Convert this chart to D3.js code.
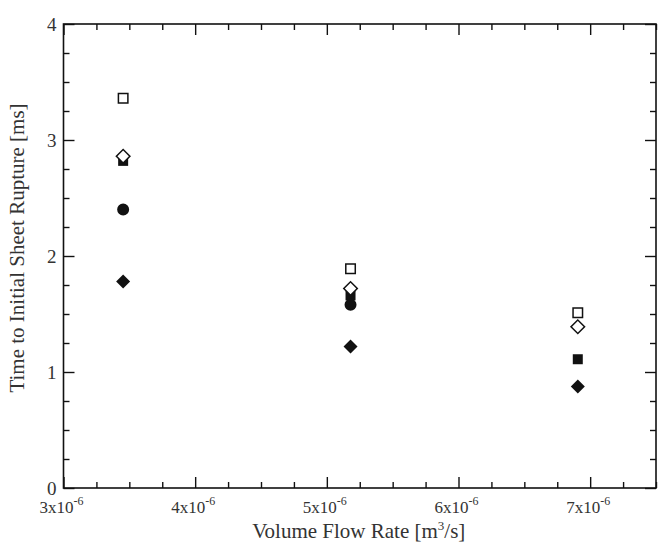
<!DOCTYPE html>
<html><head><meta charset="utf-8">
<script src="https://cdn.jsdelivr.net/npm/d3@7"></script>
<style>body{margin:0;background:#fff}svg{display:block}</style>
</head><body>
<svg id="chart" width="659" height="546"></svg>
<script>
// Volume flow rate (m^3/s) for the three test conditions
const flowRates = [3.453e-6, 5.18e-6, 6.906e-6];
// Time to initial sheet rupture (ms), one array per marker series
const openSquare    = [3.36, 1.89, 1.51];
const filledSquare  = [2.82, 1.66, 1.11];
const filledCircle  = [2.40, 1.58, null];
const openDiamond   = [2.86, 1.72, 1.39];
const filledDiamond = [1.78, 1.22, 0.875];
// Axis ticks
const xMajor = [3e-6, 4e-6, 5e-6, 6e-6, 7e-6];
const xMantissa = ["3", "4", "5", "6", "7"];
const yMajor = [0, 1, 2, 3, 4];

const svg = d3.select("#chart");
const m = {left: 63.5, right: 656, top: 24, bottom: 488};
const x = d3.scaleLinear().domain([3e-6, 7.5e-6]).range([m.left, m.right]);
const y = d3.scaleLinear().domain([0, 4]).range([m.bottom, m.top]);

const xMinor = d3.range(3e-6, 7.5001e-6, 0.25e-6).filter(v => Math.abs(v / 1e-6 - Math.round(v / 1e-6)) > 1e-6);
const yMinor = d3.range(0, 4.0001, 0.25).filter(v => Math.abs(v - Math.round(v)) > 1e-6);

const font = "'Liberation Serif', 'Times New Roman', serif";
const ink = "#111";

function styleAxis(g) {
  g.select(".domain").remove();
  g.selectAll(".tick line").attr("stroke", ink).attr("stroke-width", 1.4);
  g.selectAll(".tick text").remove();
}

// inward ticks on all four sides
const axes = [
  [d3.axisBottom(x), `translate(0,${m.bottom})`, xMajor, xMinor],
  [d3.axisTop(x), `translate(0,${m.top})`, xMajor, xMinor],
  [d3.axisLeft(y), `translate(${m.left},0)`, yMajor, yMinor],
  [d3.axisRight(y), `translate(${m.right},0)`, yMajor, yMinor]
];
axes.forEach(([ax, tr, major, minor]) => {
  svg.append("g").attr("transform", tr).call(ax.tickValues(major).tickSize(-11).tickFormat("")).call(styleAxis);
  svg.append("g").attr("transform", tr).call(ax.tickValues(minor).tickSize(-6).tickFormat("")).call(styleAxis);
});

// frame
svg.append("rect")
  .attr("x", m.left).attr("y", m.top)
  .attr("width", m.right - m.left).attr("height", m.bottom - m.top)
  .attr("fill", "none").attr("stroke", ink).attr("stroke-width", 1.6);

// y tick labels
svg.append("g").selectAll("text").data(yMajor).join("text")
  .attr("x", m.left - 7).attr("y", d => y(d)).attr("dy", "0.35em")
  .attr("text-anchor", "end")
  .attr("font-family", font).attr("font-size", 19).attr("fill", "#333")
  .text(d => d);

// x tick labels with superscript exponent
const xl = svg.append("g").selectAll("text").data(xMajor).join("text")
  .attr("x", d => x(d) - 2).attr("y", m.bottom + 25)
  .attr("text-anchor", "middle")
  .attr("font-family", font).attr("font-size", 17).attr("fill", "#333");
xl.append("tspan").text((d, i) => xMantissa[i] + "x10");
xl.append("tspan").attr("dy", -8).attr("font-size", 12).text("-6");

// axis titles
const xt = svg.append("text")
  .attr("x", (m.left + m.right) / 2 - 1).attr("y", 538)
  .attr("text-anchor", "middle")
  .attr("font-family", font).attr("font-size", 21).attr("fill", "#333");
xt.append("tspan").text("Volume Flow Rate [m");
xt.append("tspan").attr("dy", -8).attr("font-size", 13).text("3");
xt.append("tspan").attr("dy", 8).text("/s]");

svg.append("text")
  .attr("transform", `translate(24,248) rotate(-90)`)
  .attr("text-anchor", "middle")
  .attr("font-family", font).attr("font-size", 21).attr("fill", "#333")
  .text("Time to Initial Sheet Rupture [ms]");

// markers
const series = [
  {vals: filledDiamond, shape: d3.symbolSquare, size: 98, rot: 45, fill: ink},
  {vals: filledSquare, shape: d3.symbolSquare, size: 100, rot: 0, fill: ink},
  {vals: filledCircle, shape: d3.symbolCircle, size: 113, rot: 0, fill: ink},
  {vals: openDiamond, shape: d3.symbolSquare, size: 92, rot: 45, fill: "#fff", stroke: ink},
  {vals: openSquare, shape: d3.symbolSquare, size: 90, rot: 0, fill: "#fff", stroke: ink}
];
series.forEach(s => {
  const pts = s.vals.map((v, i) => ({fx: flowRates[i], t: v})).filter(p => p.t != null);
  svg.append("g").selectAll("path").data(pts).join("path")
    .attr("transform", p => `translate(${x(p.fx)},${y(p.t)}) rotate(${s.rot})`)
    .attr("d", d3.symbol(s.shape, s.size))
    .attr("fill", s.fill)
    .attr("stroke", s.stroke || "none")
    .attr("stroke-width", s.stroke ? 1.5 : 0);
});
</script>
</body></html>
